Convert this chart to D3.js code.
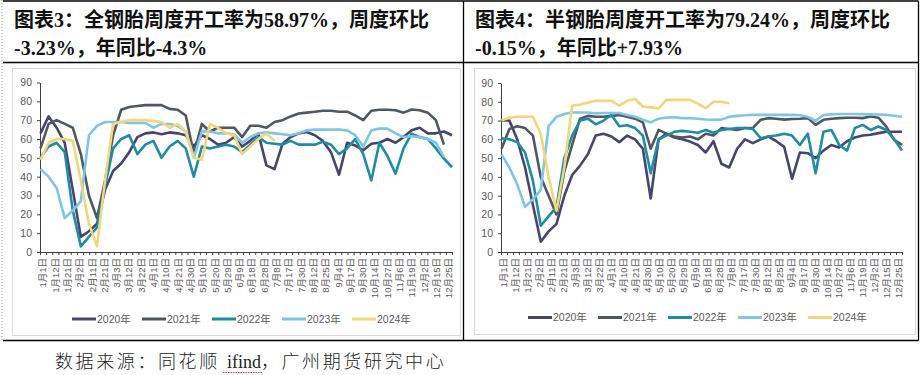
<!DOCTYPE html>
<html>
<head>
<meta charset="utf-8">
<script src="https://cdn.jsdelivr.net/npm/d3@7"></script>
<style>
body { margin: 0; background: #fff; }
.title { font-family: "Liberation Serif", "Noto Sans CJK SC", serif; font-weight: bold; font-size: 20px; fill: #111; }
.axis text { font-family: "Liberation Sans", "Noto Sans CJK SC", sans-serif; fill: #595959; }
.legend text { font-family: "Liberation Sans", "Noto Sans CJK SC", sans-serif; font-size: 10.5px; fill: #595959; }
.source { font-family: "Liberation Serif", "Noto Sans CJK SC", serif; font-size: 18px; font-weight: 300; fill: #222; }
</style>
</head>
<body>
<svg id="chart" width="922" height="375"></svg>
<script>

// TICK LABELS ON THE X AXIS (EVERY OTHER SLOT)
var dateLabels = ["1月1日","1月12日","1月21日","2月2日","2月11日","2月21日","3月3日","3月12日","3月22日",
    "4月1日","4月10日","4月21日","4月30日","5月10日","5月20日","5月29日","6月9日","6月18日","6月28日",
    "7月8日","7月17日","7月30日","8月12日","8月25日","9月4日","9月17日","9月30日","10月14日","10月27日",
    "11月6日","11月19日","12月2日","12月15日","12月25日"];
var yTicks = [0,10,20,30,40,50,60,70,80,90];
var yearNames = ["2020年","2021年","2022年","2023年","2024年"];
var yearColors = ["#46466c","#4f5763","#1f8ca6","#7fc6e4","#f1d67c"];

// 全钢胎 WEEKLY RATES
var allSteel2020 = [63,72,66,58,33,8,11,15,33,43,47,53,61,63,63.5,62.5,63.5,63,62,56,62,60,57,58,61,56,
    59,63,46,44,57.5,61,63,63.7,62,59,53,41,58,56.6,54,57.5,58,60,58,61,64.6,66,63,63,64,62];
var allSteel2021 = [55,68,70,68,66,52,30,18,38,62,75.5,77,77.5,78,78,78,76,75.5,72.5,52,68,64,66,66,66,61,
    67,67,66,69,70,72,73.5,74,74.5,75,75,74.5,74.5,72.5,70,75,75.5,75.5,75.3,74,75.7,75.3,74,70,57];
var allSteel2022 = [50,56,58,53,22,3,8,13,35,55,60,62,52,57,59,50,56,59,55,40,56,55,56,57,56,53,
    57,61,58,57.5,57,59,57,57,57,58.5,57,52,55,60,52,38,58,51,41.6,55,62.8,61,60,55,49.6,45];
var allSteel2023 = [44,40,34,18,22,27,62,67,69,69,69,68.5,68.5,68.5,66,68,68,67,64,50,64,64,63,63,62.5,58,
    61,63,63.5,63,62.5,62,63,64.6,65,65,65,65,64.6,62,56,64.6,65.5,65.5,63,61,61.5,61,60,58,50.5];
var allSteel2024 = [49,58,60,60,59,38,15,3,38,68,69,70,70,70,69.5,69,66,68,64,50,49,68,66,63,62,52,
    56,60,63,58.97];

// 半钢胎 WEEKLY RATES
var semiSteel2020 = [70,70,60,45,25,5.5,11,15,30,41,46,52,62,63,61.5,58.5,62,60,55,28.5,60,63,61,60,58.8,57,
    53,59,47,45,55,60,58,60,61.5,59,56,39,53,52.6,50,54,57,55.6,59,61,62,62.4,63.3,64,64,64];
var semiSteel2021 = [55,65.5,67,66,62,40,30,20,43,57,71,72.5,72,72,72.5,73,72,71,69,55,65,63,61.5,61,61.5,60,
    63,62,66,65.5,65,66,66,70.4,71.3,71,70.5,70.8,71,71.3,67.7,70.4,71,71.3,71.5,71.5,71.3,72.2,71.5,66.8,59.7,57];
var semiSteel2022 = [60.5,60,58.5,53,38,14,19,24,50,62,70,71,68,70,73,67,67.5,66,62,42,60,62,64,64.5,64,63.5,
    65,63.5,65,65.5,66,66,65.5,60.6,61.5,62,63,62,57,63,42,64,65,57,54,66,67.7,65,66.8,65,60,54];
var semiSteel2023 = [52,45,36,24,28,33,67,72,73.5,74.3,74.3,74.3,73.8,74,74,74,73,72,70.4,69,71,71.6,71.8,71.3,71.3,71,
    70.6,70.4,70.5,72,72.5,72.8,73,73,73,73,73,73,72.8,72,69.9,73,73.3,73.5,73.5,73.5,73.4,73.3,73.2,73,72.6,72];
var semiSteel2024 = [70,71.5,72,72,72,63,40,22,45,78,78.5,79.5,80.5,80.5,80.5,78,80.5,81.5,77.5,77,76.5,81,81,81,81,79,
    76.6,80,80,79.24];


var svg = d3.select("#chart");

//    FRAME OF THE TABLE
draw_frame();

draw_panel({
    x0: 0,
    titles: ["图表3：全钢胎周度开工率为58.97%，周度环比", "-3.23%，年同比-4.3%"],
    series: [allSteel2020, allSteel2021, allSteel2022, allSteel2023, allSteel2024],
    box: [12.5, 68.5, 448, 267],
    plot: { left: 40, right: 452, top: 82.5, bottom: 252 },
    legendX: 72, legendY: 319
});

draw_panel({
    x0: 461,
    titles: ["图表4：半钢胎周度开工率为79.24%，周度环比", "-0.15%，年同比+7.93%"],
    series: [semiSteel2020, semiSteel2021, semiSteel2022, semiSteel2023, semiSteel2024],
    box: [474.5, 68.5, 441, 266],
    plot: { left: 501, right: 902, top: 83, bottom: 252 },
    legendX: 528, legendY: 317.5
});

// SOURCE NOTE
var src = svg.append("text").attr("class", "source").attr("x", 55).attr("y", 368);
src.append("tspan").attr("letter-spacing", "2.6px").text("数据来源：同花顺 ");
src.append("tspan").attr("letter-spacing", "0px").text("ifind");
src.append("tspan").attr("letter-spacing", "2.6px").text("，广州期货研究中心");

// spell check squiggle under ifind
svg.append("line")
    .attr("x1", 223).attr("x2", 262).attr("y1", 372.5).attr("y2", 372.5)
    .attr("stroke", "#d04040").attr("stroke-width", 1).attr("stroke-dasharray", "1.5,1");


function draw_frame() {
    var lines = [
        [3, 1, 918.5, 1],
        [3, 62.5, 918.5, 62.5],
        [3, 340.5, 918.5, 340.5],
        [463.5, 1, 463.5, 340.5],
        [918.5, 1, 918.5, 340.5]
    ];
    lines.forEach(function (l) {
        svg.append("line")
            .attr("x1", l[0]).attr("y1", l[1]).attr("x2", l[2]).attr("y2", l[3])
            .attr("stroke", "#000").attr("stroke-width", 1.3);
    });
    // dotted page edge on the left
    svg.append("line")
        .attr("x1", 2).attr("y1", 0).attr("x2", 2).attr("y2", 340)
        .attr("stroke", "#9a9a9a").attr("stroke-width", 1).attr("stroke-dasharray", "1,2");
}


function draw_panel(p) {

    // TITLE, TWO LINES
    p.titles.forEach(function (t, i) {
        svg.append("text")
            .attr("class", "title")
            .attr("x", p.x0 + 14)
            .attr("y", 27 + i * 28)
            .text(t);
    });

    // GRAY BORDER OF THE CHART
    svg.append("rect")
        .attr("x", p.box[0]).attr("y", p.box[1])
        .attr("width", p.box[2]).attr("height", p.box[3])
        .attr("fill", "#fff").attr("stroke", "#d9d9d9").attr("stroke-width", 1);

    var slots = dateLabels.length * 2 - 1;
    var slot = d3.scaleLinear().domain([0, slots]).range([p.plot.left, p.plot.right]);
    var week = d3.scaleLinear().domain([0, 51]).range([p.plot.left + 0.5, p.plot.right]);
    var y = d3.scaleLinear().domain([0, 90]).range([p.plot.bottom, p.plot.top]);

    // Y AXIS
    var yAxis = svg.append("g")
        .attr("class", "axis")
        .attr("transform", "translate(" + p.plot.left + ",0)")
        .call(d3.axisLeft(y).tickValues(yTicks).tickSize(3).tickSizeOuter(0).tickPadding(5));
    yAxis.selectAll("text").style("font-size", "10.5px");
    yAxis.select(".domain").attr("stroke", "#404040");
    yAxis.selectAll(".tick line").attr("stroke", "#404040");

    // X AXIS: small tick at every slot
    var xAxis = svg.append("g")
        .attr("class", "axis")
        .attr("transform", "translate(0," + p.plot.bottom + ")")
        .call(d3.axisBottom(slot).tickValues(d3.range(slots + 1)).tickSize(3).tickSizeOuter(0).tickFormat(""));
    xAxis.select(".domain").attr("stroke", "#404040").attr("stroke-width", 1.2);
    xAxis.selectAll(".tick line").attr("stroke", "#404040");

    // rotated date labels on every other slot
    svg.append("g").attr("class", "axis")
        .selectAll("text")
        .data(dateLabels)
        .enter()
        .append("text")
        .attr("transform", function (d, i) {
            return "translate(" + slot(i * 2 + 0.5) + "," + (p.plot.bottom + 6) + ") rotate(-90)";
        })
        .attr("text-anchor", "end")
        .attr("dy", "0.35em")
        .style("font-size", "9.5px")
        .text(function (d) { return d; });

    // LINES, 2024 DRAWN LAST
    var line = d3.line()
        .x(function (d, i) { return week(i); })
        .y(function (d) { return y(d); });

    p.series.forEach(function (s, k) {
        svg.append("path")
            .datum(s)
            .attr("d", line)
            .attr("fill", "none")
            .attr("stroke", yearColors[k])
            .attr("stroke-width", 2.6)
            .attr("stroke-linejoin", "round");
    });

    // LEGEND
    var lg = svg.append("g").attr("class", "legend");
    yearNames.forEach(function (name, k) {
        var lx = p.legendX + k * 70;
        lg.append("line")
            .attr("x1", lx).attr("x2", lx + 24)
            .attr("y1", p.legendY).attr("y2", p.legendY)
            .attr("stroke", yearColors[k]).attr("stroke-width", 3);
        lg.append("text")
            .attr("x", lx + 25).attr("y", p.legendY).attr("dy", "0.35em")
            .text(name);
    });
}

</script>
</body>
</html>
